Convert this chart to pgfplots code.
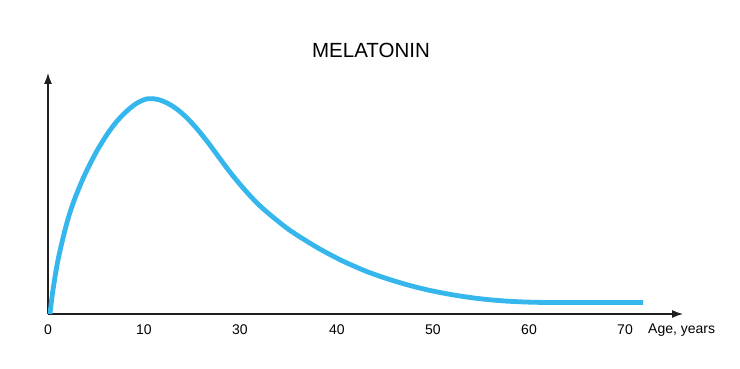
\documentclass[border=0pt]{standalone}
\usepackage{pgfplots}
\pgfplotsset{compat=1.18}
\usepackage{fontspec}
\setmainfont{Liberation Sans}
\usetikzlibrary{arrows.meta}
\definecolor{curve}{HTML}{35B6EC}
\begin{document}
\begin{tikzpicture}[x=1pt,y=1pt]
\path (0,0) rectangle (740,369);
\node[font=\fontsize{20.5}{21}\selectfont] at (371,319) {MELATONIN};
\begin{axis}[
  at={(48pt,55pt)}, anchor=origin,
  scale only axis, width=635pt, height=241pt,
  xmin=0, xmax=635, ymin=0, ymax=241,
  axis lines=left,
  axis line style={line width=1.2pt, color=black!88, -{Latex[length=11pt,width=8pt]}},
  xtick={0,96,192,289,385,481,577},
  xticklabels={0,10,30,40,50,60,70},
  ytick=\empty,
  major tick length=0pt,
  xticklabel style={font=\fontsize{14}{14}\selectfont, anchor=center, yshift=-16pt},
  clip=false,
]
\addplot[curve, line width=4.8pt, smooth, tension=0.55, line cap=butt] coordinates {
(2,0) (4,17) (7,37) (10,54) (15,76) (20,95) (25,110.5) (30,123.5) (35,135.3) (40,146)
(45,155.8) (50,165) (60,181) (70,194) (80,204) (90,211.5) (100,215.3) (110,214.5)
(120,210.5) (130,204) (140,195) (150,184) (160,171.5) (170,158) (180,144.5)
(190,132) (200,120.5) (210,110) (220,101) (230,92.8) (240,85) (250,78.3) (260,72)
(270,66) (280,60.5) (290,55.3) (300,50.5) (320,42) (340,35) (360,29) (380,24)
(400,20) (420,16.8) (440,14.4) (460,12.8) (480,11.9) (500,11.5) (520,11.5) (595,11.5)
};
\node[anchor=west, inner sep=0pt, font=\fontsize{14}{14}\selectfont] at (axis cs:600,-16) {Age, years};
\end{axis}
\end{tikzpicture}
\end{document}
